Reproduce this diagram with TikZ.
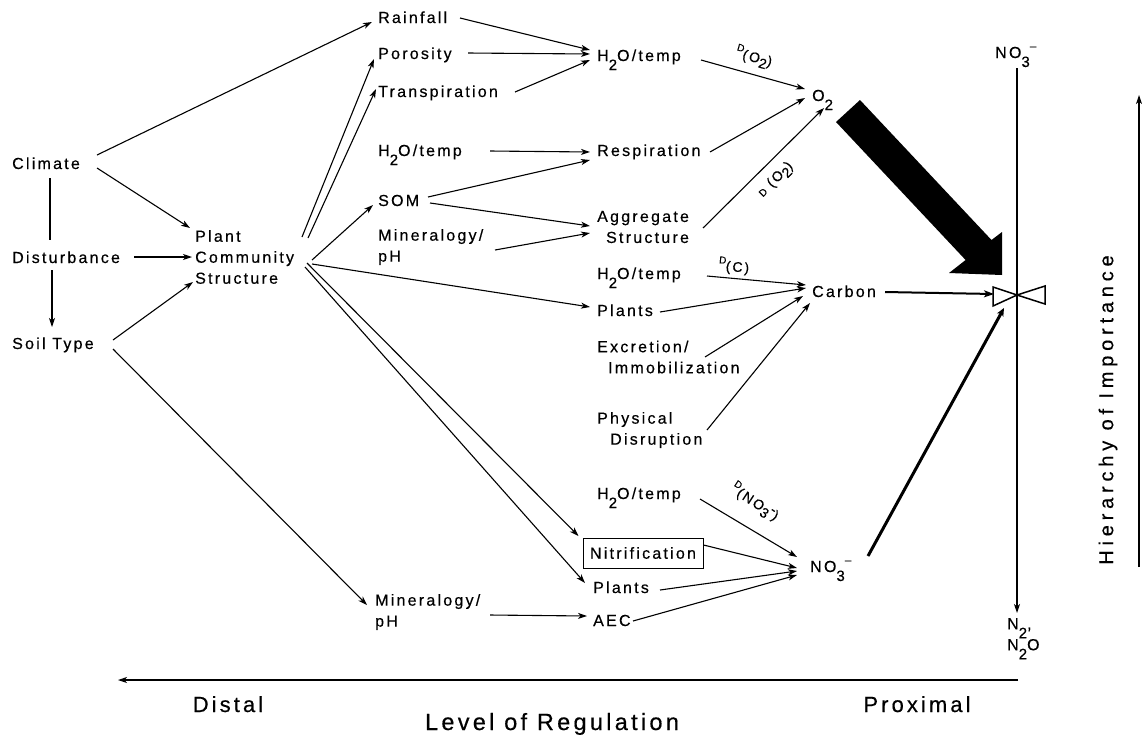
\documentclass[tikz,border=0pt]{standalone}
\usepackage{fontspec}
\setmainfont{Liberation Sans}[LetterSpace=14,FakeBold=0.4]
\usetikzlibrary{arrows.meta,calc}
\newcommand{\lowsub}[1]{\raisebox{-9pt}{\fontsize{15}{15}\selectfont #1}}
\newcommand{\upminus}{\raisebox{8pt}{\fontsize{12}{12}\selectfont –}}
\newcommand{\dsmall}{\raisebox{7pt}{\fontsize{10}{10}\selectfont D}}
\begin{document}
\begin{tikzpicture}[x=1pt,y=-1pt,
  lbl/.style={inner sep=0pt, font=\fontsize{16}{21}\selectfont},
  big/.style={inner sep=0pt, font=\fontsize{22}{22}\selectfont},
  dlab/.style={inner sep=0pt, font=\fontsize{14}{14}\selectfont},
  arr/.style={line width=1.1pt, -{Stealth[length=9pt,width=6pt,inset=2.5pt]}},
  ln/.style={line width=1.1pt},
  thickarr/.style={line width=2pt, -{Stealth[length=10pt,width=7pt,inset=2.5pt]}},
  heavyarr/.style={line width=3pt, -{Stealth[length=8pt,width=7pt,inset=2pt]}}]
\useasboundingbox (0,0) rectangle (1142,740);
\fill[white] (0,0) rectangle (1142,740);

% ---- nodes ----
\node[lbl, anchor=base west] (climate) at (12,169) {Climate};
\node[lbl, anchor=base west] (disturb) at (12,263) {Disturbance};
\node[lbl, anchor=base west] (soil) at (12,349) {Soil Type};
\node[lbl, anchor=west, align=left] (plant) at (195,257) {Plant\\Community\\Structure};

\node[lbl, anchor=base west] (rain) at (378,23) {Rainfall};
\node[lbl, anchor=base west] (poros) at (378,59) {Porosity};
\node[lbl, anchor=base west] (transp) at (378,97) {Transpiration};
\node[lbl, anchor=base west] (hB) at (378,156) {H\lowsub{2}O/temp};
\node[lbl, anchor=base west] (som) at (378,206) {SOM};
\node[lbl, anchor=west, align=left] (minA) at (378,247) {Mineralogy/\\pH};
\node[lbl, anchor=west, align=left] (minB) at (375,612) {Mineralogy/\\pH};

\node[lbl, anchor=base west] (hA) at (597,61) {H\lowsub{2}O/temp};
\node[lbl, anchor=base west] (resp) at (597,156) {Respiration};
\node[lbl, anchor=west, align=right] (agg) at (597,227) {Aggregate\\Structure};
\node[lbl, anchor=base west] (hC) at (597,279) {H\lowsub{2}O/temp};
\node[lbl, anchor=base west] (plantsA) at (597,316) {Plants};
\node[lbl, anchor=west, align=left] (excr) at (597,357) {Excretion/\\\hspace*{11pt}Immobilization};
\node[lbl, anchor=west, align=left] (phys) at (597,430) {Physical\\\hspace*{13pt}Disruption};
\node[lbl, anchor=base west] (hD) at (597,499) {H\lowsub{2}O/temp};
\node[lbl, draw, line width=1pt, minimum width=120pt, minimum height=30pt] (nitr) at (643,553) {Nitrification};
\node[lbl, anchor=base west] (plantsB) at (593,593) {Plants};
\node[lbl, anchor=base west] (aec) at (593,626) {AEC};

\node[lbl, anchor=base west] (o2) at (812,101) {O\lowsub{2}};
\node[lbl, anchor=base west] (carbon) at (812,297) {Carbon};
\node[lbl, anchor=base west] (no3b) at (810,572) {NO\lowsub{3}\upminus};

\node[lbl, anchor=base west] (no3t) at (995,58) {NO\lowsub{3}\upminus};
\node[lbl, anchor=north west, align=left] (n2) at (1007,618) {N\lowsub{2},\\N\lowsub{2}O};

\node[big, anchor=base] (distal) at (228,712) {Distal};
\node[big, anchor=base] (proximal) at (917,712) {Proximal};
\node[big, anchor=base, font=\fontsize{23.5}{24}\selectfont] (level) at (552,730) {Level of Regulation};
\node[inner sep=0pt, font=\addfontfeatures{LetterSpace=24}\fontsize{20}{20}\selectfont, rotate=90] (hier) at (1108,410) {Hierarchy of Importance};

% ---- diffusion labels ----
\node[dlab, rotate=-15] (dA) at (754,57) {\dsmall(O\raisebox{-4pt}{2})};
\node[dlab, rotate=45] (dB) at (776,180) {{\fontsize{10}{10}\selectfont D} (O\raisebox{-4pt}{2})};
\node[dlab, rotate=-5] (dC) at (734,266) {\dsmall(C)};
\node[dlab, rotate=-33] (dD) at (755,502) {\dsmall(NO\raisebox{-4pt}{3}\raisebox{4pt}{-})};

% ---- coordinates ----
\coordinate (valve) at (1017,295);
\coordinate (axR) at (1018,680);
\coordinate (axL) at (118,680);
\coordinate (hiB) at (1139,567);
\coordinate (hiT) at (1139,95);

% ---- connectors: left part ----
\draw[arr] ($(climate.base west)+(85,-14)$) -- ($(rain.base west)+(-6,-1)$);
\draw[arr] ($(climate.base west)+(85,-1)$) -- ($(plant.west)+(-5,-29)$);
\draw[ln] ($(climate.base west)+(38,9)$) -- ($(disturb.base west)+(38,-23)$);
\draw[arr] ($(disturb.base west)+(40,7)$) -- ($(soil.base west)+(40,-22)$);
\draw[arr] ($(disturb.base west)+(122,-6)$) -- ($(plant.west)+(-3,0)$);
\draw[arr] ($(soil.base west)+(101,-9)$) -- ($(plant.west)+(-2,25)$);
\draw[arr] ($(soil.base west)+(101,0)$) -- ($(minB.west)+(-8,-7)$);

\draw[arr] ($(plant.west)+(107,-20)$) -- ($(poros.base west)+(-4,0)$);
\draw[arr] ($(plant.west)+(113,-19)$) -- ($(transp.base west)+(-2,-8)$);
\draw[arr] ($(plant.west)+(117,3)$) -- ($(som.base west)+(-5,-1)$);
\draw[arr] ($(plant.west)+(117,7)$) -- ($(plantsA.base west)+(-7,-9)$);
\draw[arr] ($(plant.west)+(112,6)$) -- ($(nitr.west)+(-4,-17)$);
\draw[arr] ($(plant.west)+(110,10)$) -- ($(plantsB.base west)+(-8,-10)$);

% ---- middle ----
\draw[arr] ($(rain.base west)+(82,-5)$) -- ($(hA.base west)+(-7,-11)$);
\draw[arr] ($(poros.base west)+(90,-6)$) -- ($(hA.base west)+(-7,-7)$);
\draw[arr] ($(transp.base west)+(137,-5)$) -- ($(hA.base west)+(-7,-1)$);
\draw[arr] ($(hA.base west)+(104,-1)$) -- ($(o2.base west)+(-7,-12)$);
\draw[arr] ($(hB.base west)+(112,-5)$) -- ($(resp.base west)+(-7,-4)$);
\draw[arr] ($(som.base west)+(50,-9)$) -- ($(resp.base west)+(-7,4)$);
\draw[arr] ($(som.base west)+(52,-3)$) -- ($(agg.west)+(-7,-1)$);
\draw[arr] ($(minA.west)+(117,3)$) -- ($(agg.west)+(-7,6)$);
\draw[arr] ($(resp.base west)+(113,-4)$) -- ($(o2.base west)+(-7,-3)$);
\draw[arr] ($(agg.west)+(106,1)$) -- ($(o2.base west)+(12,7)$);

\draw[arr] ($(hC.base west)+(110,-3)$) -- ($(carbon.base west)+(-6,-12)$);
\draw[arr] ($(plantsA.base west)+(63,-4)$) -- ($(carbon.base west)+(-6,-9)$);
\draw[arr] ($(excr.west)+(108,0)$) -- ($(carbon.base west)+(-9,-1)$);
\draw[arr] ($(phys.west)+(110,0)$) -- ($(carbon.base west)+(-2,6)$);

\draw[arr] ($(hD.base west)+(103,0)$) -- ($(no3b.base west)+(-13,-15)$);
\draw[arr] ($(nitr.east)+(0,-8)$) -- ($(no3b.base west)+(-13,-4)$);
\draw[arr] ($(plantsB.base west)+(67,-3)$) -- ($(no3b.base west)+(-13,-1)$);
\draw[arr] ($(aec.base west)+(40,-5)$) -- ($(no3b.base west)+(-13,3)$);
\draw[arr] ($(minB.west)+(115,3)$) -- ($(aec.base west)+(-6,-10)$);

% ---- right part ----
\draw[thickarr] ($(carbon.base west)+(73,-5)$) -- ($(valve)+(-23,-1)$);
\draw[heavyarr] ($(no3b.base west)+(58,-16)$) -- ($(valve)+(-13,13)$);
\draw[arr] ($(no3t.base west)+(22,10)$) -- ($(n2.north west)+(10,-5)$);
\draw[line width=1.5pt, line join=miter] (993,287) -- (993,306) -- (valve) -- cycle;
\draw[line width=1.5pt, line join=miter] (1045,286) -- (1045,304) -- (valve) -- cycle;

% big black arrow
\fill[black] (860,100) -- (991.5,240) -- (1002,232) -- (1002,275) -- (949,273) -- (965.6,260) -- (836,122) -- cycle;

% axes
\draw[arr] (axR) -- (axL);
\draw[arr] (hiB) -- (hiT);
\end{tikzpicture}
\end{document}
